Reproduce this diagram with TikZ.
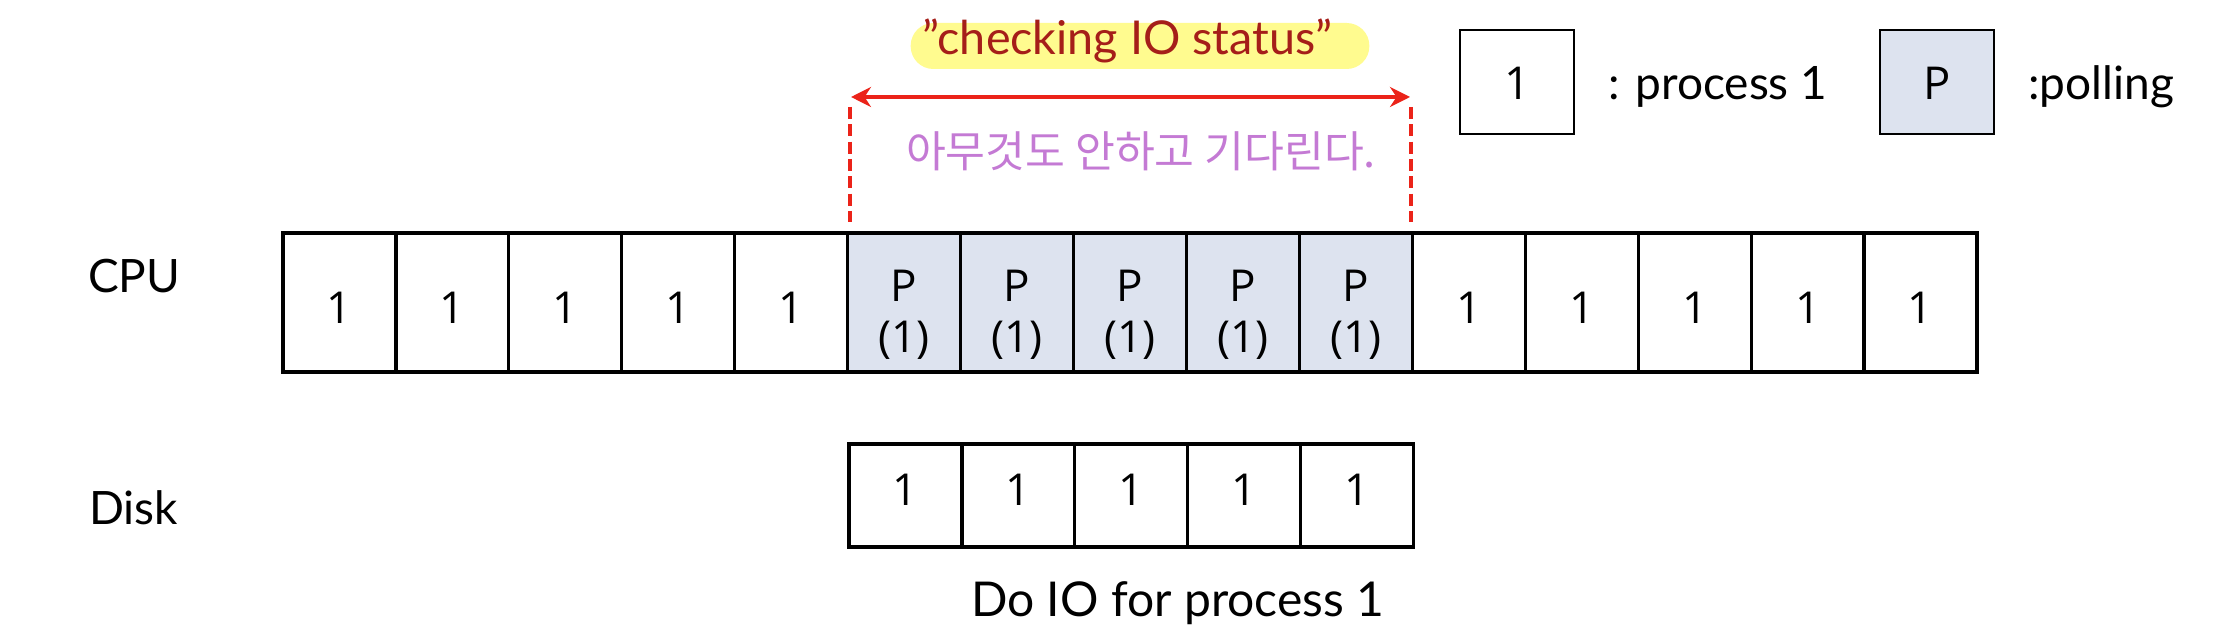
\documentclass[tikz,border=0pt]{standalone}
\usepackage{fontspec}
\setmainfont{Lato}
\newfontfamily\cellfont{Open Sans}
\newfontfamily\krfont{Noto Sans CJK KR}
\usetikzlibrary{arrows.meta}
\definecolor{pfill}{RGB}{221,227,239}
\definecolor{hlyellow}{RGB}{255,251,143}
\definecolor{darkred}{RGB}{165,30,25}
\definecolor{arrred}{RGB}{235,35,25}
\definecolor{krpurple}{RGB}{196,122,212}
\newcommand\pcontent{\vbox{\baselineskip=38.25pt\lineskiplimit=-\maxdimen
  \hbox to 60pt{\hss P\hss}\hbox to 60pt{\hss(1)\hss}}}
\begin{document}
\begin{tikzpicture}[x=0.75pt,y=-0.75pt,
  cellbox/.style={draw, line width=2.4pt, minimum width=84.7pt, minimum height=104.25pt,
    inner sep=0pt, font=\cellfont\fontsize{33}{38}\selectfont, text height=32pt, text depth=0pt},
  pcell/.style={cellbox, fill=pfill, text height=75.75pt},
  diskcell/.style={cellbox, minimum height=77.25pt, text height=14.25pt},
  legbox/.style={draw, line width=2.2pt, minimum width=85.5pt, minimum height=78pt,
    inner sep=0pt, font=\cellfont\fontsize{34}{38}\selectfont, text height=27pt, text depth=0pt},
  lbl/.style={inner sep=0pt, font=\fontsize{34.5}{40}\selectfont},
  redarrow/.style={draw=arrred, line width=3pt},
  reddash/.style={draw=arrred, line width=3pt, dash pattern=on 9pt off 4pt}
]
\useasboundingbox (0,0) rectangle (2222,630);

% CPU row
\foreach \i in {1,...,5,11,12,13,14,15}
  \node[cellbox] (c\i) at ({283+(\i-0.5)*112.93},302.5) {1};
\foreach \i in {6,...,10}
  \node[pcell] (c\i) at ({283+(\i-0.5)*112.93},302.5) {\pcontent};

% Disk row
\foreach \i in {1,...,5}
  \node[diskcell] (d\i) at ({849+(\i-0.5)*112.93},495.5) {1};

% labels
\node[lbl, anchor=base west] (cpu) at (88,293) {CPU};
\node[lbl, anchor=base west] (disk) at (89,524) {Disk};
\node[lbl, anchor=base west, font=\fontsize{36}{40}\selectfont] (doio) at (971,616) {Do IO for process 1};

% legend
\node[legbox] (leg1) at (1517,82) {1};
\node[lbl, anchor=base west] (leg1t) at (1608,100) {: process 1};
\node[legbox, fill=pfill] (legp) at (1937,82) {P};
\node[lbl, anchor=base west] (legpt) at (2028,100) {:polling};

% highlight
\node[fill=hlyellow, rounded corners=17pt, minimum width=344pt, minimum height=34.5pt,
  inner sep=0pt, text=darkred, font=\fontsize{35}{40}\selectfont, text height=13.5pt, text depth=0pt]
  (check) at (1140,46) {”checking IO status"\kern19.5pt};

% arrow and dashed guides
\coordinate (aL) at (851,97);
\coordinate (aR) at (1410,97);
\draw[redarrow, {Stealth[length=15pt,width=15pt]}-{Stealth[length=15pt,width=15pt]}] (aL) -- (aR);
\coordinate (dL1) at (850,107);
\coordinate (dL2) at (850,222);
\coordinate (dR1) at (1411,107);
\coordinate (dR2) at (1411,222);
\draw[reddash] (dL1) -- (dL2);
\draw[reddash] (dR1) -- (dR2);

\node[inner sep=0pt, text=krpurple, font=\krfont\fontsize{32.5}{38}\selectfont] (wait) at (1141,151)
  {아무것도 안하고 기다린다.};
\end{tikzpicture}
\end{document}
